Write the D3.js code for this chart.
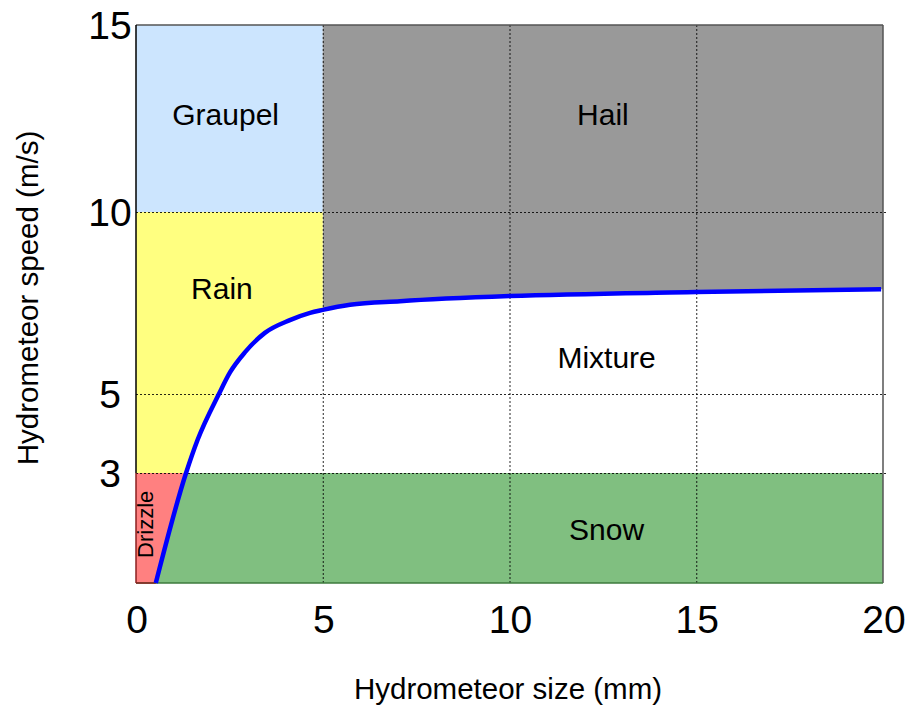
<!DOCTYPE html>
<html>
<head>
<meta charset="utf-8">
<script src="https://cdn.jsdelivr.net/npm/d3@7"></script>
<style>
body{margin:0;background:#fff;}
svg{display:block;font-family:"Liberation Sans",Arial,sans-serif;}
</style>
</head>
<body>
<div id="chart"></div>
<script>
// curve (size in mm, speed in m/s)
var sizeMm  = [0.53, 1.34, 1.65, 2.22, 2.52, 2.92, 3.45, 4.12, 4.66, 5.0, 5.73, 7.07, 10.0, 15.0, 19.95];
var speedMs = [0, 3, 3.84, 5, 5.6, 6.15, 6.68, 7.03, 7.23, 7.31, 7.45, 7.55, 7.69, 7.8, 7.88];

var xTicks = [0, 5, 10, 15, 20];
var yTicks = [3, 5, 10, 15];

// class borders
var sizeSplit = 5, speedLow = 3, speedHigh = 10, sizeMax = 20, speedMax = 15;

var regionNames  = ["Graupel", "Hail", "Rain", "Mixture", "Snow", "Drizzle"];
var regionLabelX = [2.4, 12.5, 2.3, 12.6, 12.6];
var regionLabelY = [12.6, 12.6, 7.9, 6, 1.45];

var W = 912, H = 709;
var svg = d3.select("#chart").append("svg")
    .attr("width", W).attr("height", H);
svg.append("rect").attr("width", W).attr("height", H).attr("fill", "#fff");

var x = d3.scaleLinear().domain([0, sizeMax]).range([136, 883]);
// the axis of the picture is not quite even, so it is piecewise linear
var y = d3.scaleLinear().domain([0, 3, 5, 10, 15]).range([583, 473, 394, 212, 25]);

var pts = sizeMm.map(function(s, i){ return {size: s, speed: speedMs[i]}; });

// rectangles
svg.append("rect") // graupel
    .attr("x", x(0)).attr("y", y(speedMax))
    .attr("width", x(sizeSplit) - x(0)).attr("height", y(speedHigh) - y(speedMax))
    .attr("fill", "#cce5fe");
svg.append("rect") // hail (lower part covered by mixture)
    .attr("x", x(sizeSplit)).attr("y", y(speedMax))
    .attr("width", x(sizeMax) - x(sizeSplit)).attr("height", y(speedLow) - y(speedMax))
    .attr("fill", "#999999");
svg.append("rect") // rain
    .attr("x", x(0)).attr("y", y(speedHigh))
    .attr("width", x(sizeSplit) - x(0)).attr("height", y(speedLow) - y(speedHigh))
    .attr("fill", "#ffff80");

// mixture: under the curve, above 3 m/s
var upper = pts.filter(function(d){ return d.speed >= speedLow; });
upper.push({size: sizeMax, speed: upper[upper.length-1].speed});
var mixArea = d3.area()
    .x(function(d){ return x(d.size); })
    .y0(y(speedLow))
    .y1(function(d){ return y(d.speed); })
    .curve(d3.curveMonotoneX);
svg.append("path").attr("d", mixArea(upper)).attr("fill", "#fff");

// snow and drizzle
svg.append("rect")
    .attr("x", x(0)).attr("y", y(speedLow))
    .attr("width", x(sizeMax) - x(0)).attr("height", y(0) - y(speedLow))
    .attr("fill", "#80bf80");
var lower = pts.filter(function(d){ return d.speed <= speedLow; });
var drizArea = d3.area()
    .y(function(d){ return y(d.speed); })
    .x0(x(0))
    .x1(function(d){ return x(d.size); });
svg.append("path").attr("d", drizArea(lower)).attr("fill", "#ff8080");

// grid
var grid = svg.append("g")
    .attr("stroke", "#000").attr("stroke-opacity", 0.85)
    .attr("stroke-width", 1).attr("stroke-dasharray", "2,2");
grid.selectAll("line.v").data(xTicks.filter(function(v){ return v > 0 && v < sizeMax; }))
  .enter().append("line")
    .attr("x1", function(d){ return x(d) + 0.5; }).attr("x2", function(d){ return x(d) + 0.5; })
    .attr("y1", y(speedMax)).attr("y2", y(0));
grid.selectAll("line.h").data(yTicks.filter(function(v){ return v < speedMax; }))
  .enter().append("line")
    .attr("y1", function(d){ return y(d) + 0.5; }).attr("y2", function(d){ return y(d) + 0.5; })
    .attr("x1", x(0)).attr("x2", x(sizeMax) + 5);

// frame
svg.append("line").attr("x1", x(0)).attr("x2", x(sizeMax)).attr("y1", y(speedMax)).attr("y2", y(speedMax))
    .attr("stroke", "#555").attr("stroke-width", 1.5);
svg.append("line").attr("x1", x(sizeMax)).attr("x2", x(sizeMax)).attr("y1", y(speedMax)).attr("y2", y(0))
    .attr("stroke", "#555").attr("stroke-width", 1.5);
svg.append("line").attr("x1", x(0)).attr("x2", x(sizeMax)).attr("y1", y(0)).attr("y2", y(0))
    .attr("stroke", "#3d7a3d").attr("stroke-width", 1.5);
svg.append("line").attr("x1", x(0)).attr("x2", x(sizeMm[0])).attr("y1", y(0)).attr("y2", y(0))
    .attr("stroke", "#8b2020").attr("stroke-width", 1.5);
svg.append("line").attr("x1", x(0)).attr("x2", x(0)).attr("y1", y(speedMax)).attr("y2", y(speedLow))
    .attr("stroke", "#000").attr("stroke-width", 1.5);
svg.append("line").attr("x1", x(0)).attr("x2", x(0)).attr("y1", y(speedLow)).attr("y2", y(0))
    .attr("stroke", "#8b2020").attr("stroke-width", 1.5);

// curve
var line = d3.line()
    .x(function(d){ return x(d.size); })
    .y(function(d){ return y(d.speed); })
    .curve(d3.curveMonotoneX);
svg.append("path").attr("d", line(pts))
    .attr("fill", "none").attr("stroke", "#0000ff").attr("stroke-width", 4.5);

// region labels
svg.selectAll("text.region").data(regionNames.slice(0, 5))
  .enter().append("text")
    .attr("x", function(d, i){ return x(regionLabelX[i]); })
    .attr("y", function(d, i){ return y(regionLabelY[i]); })
    .attr("dy", "0.35em")
    .attr("text-anchor", "middle")
    .attr("font-size", 30)
    .attr("fill", "#000")
    .text(function(d){ return d; });
svg.append("text")
    .attr("transform", "translate(" + (x(0) + 17) + "," + y(1.6) + ") rotate(-90)")
    .attr("text-anchor", "middle")
    .attr("font-size", 22)
    .text(regionNames[5]);

// tick labels
svg.selectAll("text.xt").data(xTicks).enter().append("text")
    .attr("x", function(d){ return x(d) + 1; })
    .attr("y", 633)
    .attr("text-anchor", "middle")
    .attr("font-size", 39)
    .text(function(d){ return d; });
svg.selectAll("text.yt").data(yTicks).enter().append("text")
    .attr("x", 110)
    .attr("y", function(d){ return y(d) + 14; })
    .attr("text-anchor", "middle")
    .attr("font-size", 39)
    .text(function(d){ return d; });

// axis titles
svg.append("text")
    .attr("x", 508).attr("y", 699)
    .attr("text-anchor", "middle")
    .attr("font-size", 29.5)
    .text("Hydrometeor size (mm)");
svg.append("text")
    .attr("transform", "translate(38,298) rotate(-90)")
    .attr("text-anchor", "middle")
    .attr("font-size", 29.5)
    .text("Hydrometeor speed (m/s)");
</script>
</body>
</html>
